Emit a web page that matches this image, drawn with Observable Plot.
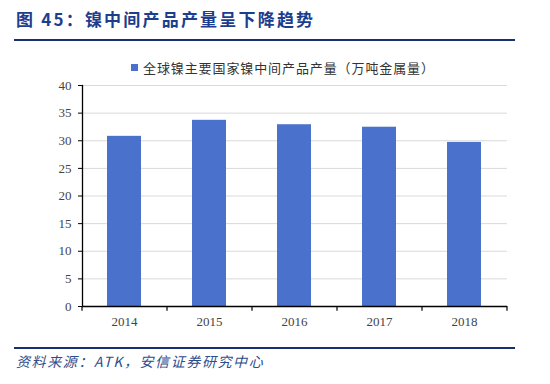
<!DOCTYPE html>
<html>
<head>
<meta charset="utf-8">
<script src="https://cdn.jsdelivr.net/npm/d3@7"></script>
<script src="https://cdn.jsdelivr.net/npm/@observablehq/plot@0.6"></script>
<style>
  html, body { margin: 0; padding: 0; background: #fff; }
  #wrap { position: relative; width: 550px; height: 384px; overflow: hidden; background: #fff; }
  #title { position: absolute; left: 16px; top: 6px; font-family: "Noto Sans CJK SC", sans-serif; font-weight: 700; font-size: 17px; color: #1d3d8e; letter-spacing: 2.2px; white-space: nowrap; }
  #rule1 { position: absolute; left: 14px; top: 39px; width: 501px; height: 2px; background: #1b2f6e; }
  #rule2 { position: absolute; left: 14px; top: 347px; width: 501px; height: 2px; background: #1b2f6e; }
  #source { position: absolute; left: 16px; top: 351px; font-family: "Noto Sans CJK SC", sans-serif; font-style: italic; font-size: 14px; color: #2e4d8c; letter-spacing: 1.6px; white-space: nowrap; }
  #legend { position: absolute; left: 131px; top: 58px; font-family: "Noto Sans CJK SC", serif; font-size: 13px; color: #333; letter-spacing: 0.9px; white-space: nowrap; display: flex; align-items: center; }
  #legend .sw { display: inline-block; width: 7px; height: 7px; background: #4a72cc; margin-right: 5px; }
  #chart { position: absolute; left: 0; top: 50px; }
</style>
</head>
<body>
<div id="wrap">
  <div id="title">图 45：镍中间产品产量呈下降趋势</div>
  <div id="rule1"></div>
  <div id="legend"><span class="sw"></span><span id="legendText"></span></div>
  <div id="chart"></div>
  <div id="rule2"></div>
  <div id="source">资料来源：ATK，安信证券研究中心</div>
</div>
<script>
const years = ["2014", "2015", "2016", "2017", "2018"];
const output = [30.8, 33.7, 32.9, 32.45, 29.7];
const yTicks = [0, 5, 10, 15, 20, 25, 30, 35, 40];
const seriesName = "全球镍主要国家镍中间产品产量（万吨金属量）";

document.getElementById("legendText").textContent = seriesName;

const data = years.map((y, i) => ({year: y, value: output[i]}));
const gridTicks = yTicks.filter(t => t > 0);
const halfStep = 42.5;

const chart = Plot.plot({
  width: 550,
  height: 290,
  marginTop: 35,
  marginBottom: 34,
  marginLeft: 82,
  marginRight: 43,
  style: {fontFamily: "'Liberation Serif', 'DejaVu Serif', serif", fontSize: "13px", color: "#444", background: "transparent"},
  x: {domain: years, paddingInner: 0.6, paddingOuter: 0.3, axis: null},
  y: {domain: [0, 40], axis: null},
  marks: [
    Plot.ruleY(gridTicks, {stroke: "#d9d9d9", strokeWidth: 1}),
    Plot.barY(data, {x: "year", y: "value", fill: "#4a72cc"}),
    Plot.axisY(yTicks, {tickSize: 4, tickPadding: 7, fontSize: 13, stroke: "#000", fill: "#444", label: null}),
    Plot.axisX(years, {tickSize: 0, tickPadding: 10, fontSize: 13, fill: "#444", label: null}),
    Plot.ruleX(years, {x: d => d, dx: -halfStep, y1: 0, y2: -0.85, stroke: "#000", strokeWidth: 1.2}),
    Plot.ruleX(years.slice(-1), {x: d => d, dx: halfStep, y1: 0, y2: -0.85, stroke: "#000", strokeWidth: 1.2}),
    Plot.ruleY([0], {stroke: "#000", strokeWidth: 1.3}),
    Plot.frame({anchor: "left", stroke: "#000", strokeWidth: 1.3})
  ]
});
document.getElementById("chart").appendChild(chart);
</script>
</body>
</html>
